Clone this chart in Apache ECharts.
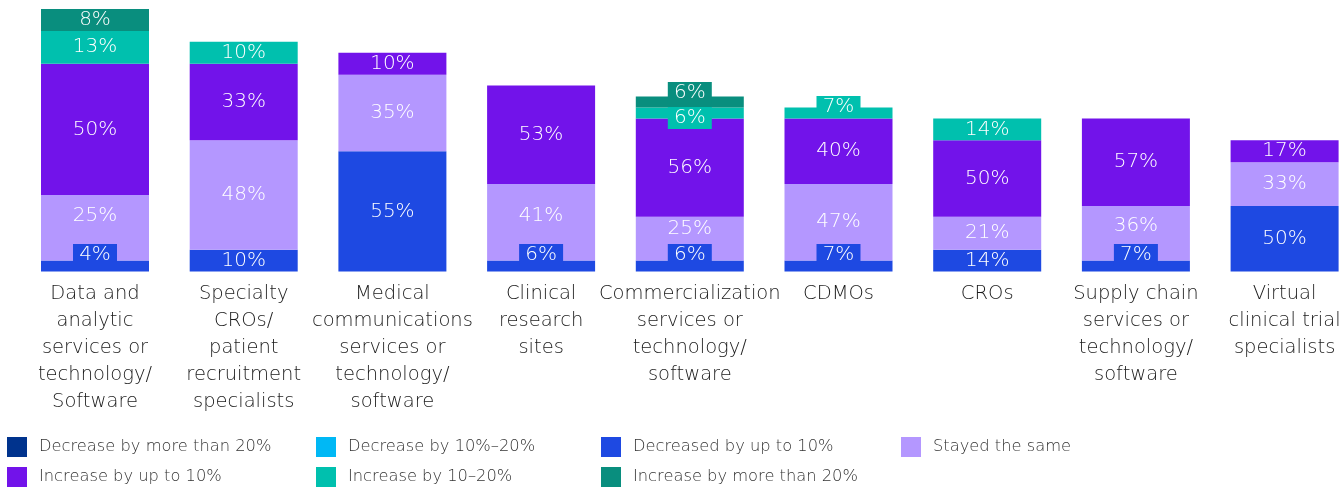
<!DOCTYPE html>
<html><head><meta charset="utf-8">
<script src="https://cdn.jsdelivr.net/npm/echarts@6/dist/echarts.min.js"></script>
<style>html,body{margin:0;padding:0;background:#fff}#c{width:1341px;height:487px}</style>
</head><body><div id="c"></div>
<script>
const categories = [
  "Data and\nanalytic\nservices or\ntechnology/\nSoftware",
  "Specialty\nCROs/\npatient\nrecruitment\nspecialists",
  "Medical\ncommunications\nservices or\ntechnology/\nsoftware",
  "Clinical\nresearch\nsites",
  "Commercialization\nservices or\ntechnology/\nsoftware",
  "CDMOs",
  "CROs",
  "Supply chain\nservices or\ntechnology/\nsoftware",
  "Virtual\nclinical trial\nspecialists"
];
const seriesNames = [
  "Decrease by more than 20%",
  "Decrease by 10%\u201320%",
  "Decreased by up to 10%",
  "Stayed the same",
  "Increase by up to 10%",
  "Increase by 10\u201320%",
  "Increase by more than 20%"
];
// respondent counts per category (bar heights)
const decMore20  = [0,0,0,0,0,0,0,0,0];
const dec10to20  = [0,0,0,0,0,0,0,0,0];
const decUpTo10  = [1,2,11,1,1,1,2,1,6];
const stayedSame = [6,10,7,7,4,7,3,5,4];
const incUpTo10  = [12,7,2,9,9,6,7,8,2];
const inc10to20  = [3,2,0,0,1,1,2,0,0];
const incMore20  = [2,0,0,0,1,0,0,0,0];
const colors = ["#00338D","#00B8F5","#1E49E2","#B497FF","#7213EA","#00C0AE","#098E7E"];

const allData = [decMore20, dec10to20, decUpTo10, stayedSame, incUpTo10, inc10to20, incMore20];
const totals = categories.map((_, i) => allData.reduce((s, a) => s + a[i], 0));

// label offsets (style only); boxed = label drawn on a coloured box sticking out of a thin segment
const labelOffsets = {
  "2": {0:[0,-11],3:[0,-11],4:[0,-11],5:[0,-11],7:[0,-11]},
  "3": {0:[0,-12],3:[0,-6],4:[0,-10],7:[0,-7]},
  "5": {4:[0,5],5:[0,-6]},
  "6": {4:[0,-9]}
};
const boxed = {"2":[0,3,4,5,7],"5":[4,5],"6":[4]};

const FONT = "'DejaVu Sans', sans-serif";

const series = allData.map((arr, si) => ({
  name: seriesNames[si],
  type: 'bar',
  stack: 'total',
  barWidth: 108,
  itemStyle: { color: colors[si] },
  data: arr.map((v, ci) => {
    if (!v) return null;
    const off = (labelOffsets[si] || {})[ci];
    const d = { value: v, label: {} };
    if (off) d.label.offset = off;
    if ((boxed[si] || []).indexOf(ci) >= 0) {
      d.label.backgroundColor = colors[si];
      d.label.width = 44;
      d.label.height = 22;
    }
    return d;
  }),
  label: {
    show: true,
    position: 'inside',
    formatter: p => Math.round(p.value / totals[p.dataIndex] * 100) + '%',
    color: '#fff',
    fontFamily: FONT,
    fontWeight: 300,
    fontSize: 20,
    lineHeight: 22,
    align: 'center',
    verticalAlign: 'middle'
  }
}));

const legendPos = [
  [7,437],[316,437],[601,437],[901,437],
  [7,467],[316,467],[601,467]
];
const legends = seriesNames.map((n, i) => ({
  data: [n],
  left: legendPos[i][0],
  top: legendPos[i][1],
  padding: 0,
  itemWidth: 20,
  itemHeight: 20,
  icon: 'rect',
  selectedMode: false,
  textStyle: { color: '#333', fontSize: 16.3, fontFamily: FONT, fontWeight: 300, padding: [0,0,0,7] }
}));

const chart = echarts.init(document.getElementById('c'));
chart.setOption({
  animation: false,
  color: colors,
  grid: { left: 20.65, top: 9, width: 1338.3, height: 262.5, containLabel: false, outerBoundsMode: 'none' },
  legend: legends,
  xAxis: {
    type: 'category',
    data: categories,
    axisLine: { show: false },
    axisTick: { show: false },
    axisLabel: {
      interval: 0, margin: 9,
      color: '#1a1a1a', fontSize: 19.5, lineHeight: 27, fontFamily: FONT, fontWeight: 300
    }
  },
  yAxis: { type: 'value', min: 0, max: 24, show: false, splitLine: { show: false } },
  series: series
});
</script>
</body></html>
